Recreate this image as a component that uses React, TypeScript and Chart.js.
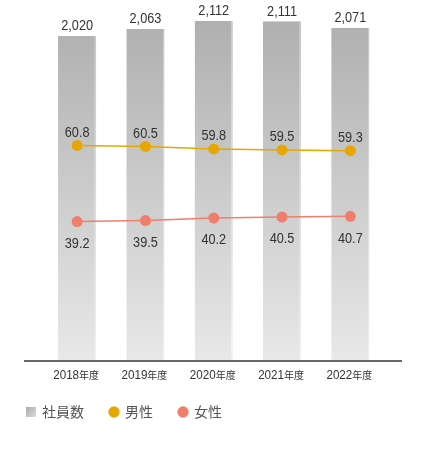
import React, { useEffect, useRef } from "react";
import { Chart, registerables } from "chart.js";

Chart.register(...registerables);

const categories = ["2018", "2019", "2020", "2021", "2022"];
const categorySuffix = "年度";
const employees = [2020, 2063, 2112, 2111, 2071];
const male = [60.8, 60.5, 59.8, 59.5, 59.3];
const female = [39.2, 39.5, 40.2, 40.5, 40.7];
const seriesNames = ["社員数", "男性", "女性"];

const NUM_FONT = "'Liberation Sans Narrow', 'Liberation Sans', Arial, sans-serif";
const CJK_FONT = "'Noto Sans CJK JP', 'Noto Sans', sans-serif";
const MALE_COLOR = "#e6a800";
const FEMALE_COLOR = "#f07e6c";
const TEXT_COLOR = "#333333";
const SQUEEZE = 0.82;

function barGradient(chart: any, top: string, bottom: string) {
  const area = chart.chartArea;
  if (!area) return bottom;
  const g = chart.ctx.createLinearGradient(0, area.top, 0, area.bottom);
  g.addColorStop(0, top);
  g.addColorStop(1, bottom);
  return g;
}

function makeSquare() {
  const c = document.createElement("canvas");
  c.width = 10;
  c.height = 10;
  const ctx = c.getContext("2d")!;
  const g = ctx.createLinearGradient(0, 0, 10, 10);
  g.addColorStop(0, "#a9a9a9");
  g.addColorStop(1, "#dcdcdc");
  ctx.fillStyle = g;
  ctx.fillRect(0, 0, 10, 10);
  return c;
}

function squeezedText(ctx: any, text: string, x: number, y: number, sx: number) {
  ctx.save();
  ctx.translate(x, y);
  ctx.scale(sx, 1);
  ctx.fillText(text, 0, 0);
  ctx.restore();
}

const valueLabels = {
  id: "valueLabels",
  afterDatasetsDraw(chart: any) {
    const ctx = chart.ctx;
    ctx.save();
    ctx.font = `15.5px ${NUM_FONT}`;
    ctx.fillStyle = TEXT_COLOR;
    ctx.textAlign = "center";
    ctx.textBaseline = "middle";
    chart.getDatasetMeta(0).data.forEach((el: any, i: number) => {
      squeezedText(ctx, employees[i].toLocaleString("en-US"), el.x, el.y - 10, SQUEEZE);
    });
    chart.getDatasetMeta(1).data.forEach((el: any, i: number) => {
      squeezedText(ctx, male[i].toFixed(1), el.x, el.y - 13, SQUEEZE);
    });
    chart.getDatasetMeta(2).data.forEach((el: any, i: number) => {
      squeezedText(ctx, female[i].toFixed(1), el.x, el.y + 22, SQUEEZE);
    });
    ctx.restore();
  },
};

const axisAndTicks = {
  id: "axisAndTicks",
  afterDatasetsDraw(chart: any) {
    const ctx = chart.ctx;
    const area = chart.chartArea;
    ctx.save();
    ctx.strokeStyle = "#3b3330";
    ctx.lineWidth = 1.6;
    ctx.beginPath();
    ctx.moveTo(area.left - 19, area.bottom + 1);
    ctx.lineTo(area.right + 17.5, area.bottom + 1);
    ctx.stroke();

    const xs = chart.scales.x;
    ctx.fillStyle = TEXT_COLOR;
    ctx.textBaseline = "alphabetic";
    ctx.textAlign = "left";
    const sx = 0.86;
    categories.forEach((c, i) => {
      const x = xs.getPixelForValue(i);
      ctx.font = `13.5px ${NUM_FONT}`;
      const w1 = ctx.measureText(c).width * sx;
      ctx.font = `10px ${CJK_FONT}`;
      const w2 = ctx.measureText(categorySuffix).width;
      const start = x - (w1 + w2) / 2 - 1;
      ctx.font = `13.5px ${NUM_FONT}`;
      squeezedText(ctx, c, start, area.bottom + 19, sx);
      ctx.font = `10px ${CJK_FONT}`;
      ctx.fillText(categorySuffix, start + w1, area.bottom + 19);
    });
    ctx.restore();
  },
};

export default function App() {
  const ref = useRef<HTMLCanvasElement>(null);
  useEffect(() => {
    if (!ref.current) return;
    const square = makeSquare();
    const chart = new Chart(ref.current, {
      type: "bar",
      data: {
        labels: categories.map((c) => c + categorySuffix),
        datasets: [
          {
            type: "bar",
            label: seriesNames[0],
            data: employees,
            yAxisID: "y",
            order: 2,
            backgroundColor: (ctx: any) => barGradient(ctx.chart, "#adadad", "#e8e8e8"),
            borderColor: (ctx: any) => barGradient(ctx.chart, "#c4c4c4", "#f0f0f0"),
            borderWidth: { top: 0, left: 0, bottom: 0, right: 1.5 },
            borderSkipped: false,
            categoryPercentage: 1,
            barPercentage: 0.56,
          } as any,
          {
            type: "line",
            label: seriesNames[1],
            data: male,
            yAxisID: "y2",
            order: 0,
            borderColor: MALE_COLOR,
            backgroundColor: MALE_COLOR,
            borderWidth: 1.5,
            pointRadius: 5.5,
            pointBorderWidth: 0,
            pointBackgroundColor: MALE_COLOR,
          } as any,
          {
            type: "line",
            label: seriesNames[2],
            data: female,
            yAxisID: "y2",
            order: 1,
            borderColor: FEMALE_COLOR,
            backgroundColor: FEMALE_COLOR,
            borderWidth: 1.5,
            pointRadius: 5.5,
            pointBorderWidth: 0,
            pointBackgroundColor: FEMALE_COLOR,
          } as any,
        ],
      },
      options: {
        responsive: false,
        animation: false,
        devicePixelRatio: 1,
        layout: { padding: { top: 7, left: 1, right: 0, bottom: 25 } },
        scales: {
          x: {
            grid: { display: false },
            border: { display: false },
            ticks: { display: false },
            afterFit: (s: any) => {
              s.height = 19;
            },
          },
          y: {
            position: "left",
            min: 0,
            max: 2200,
            grid: { display: false },
            border: { display: false },
            ticks: { display: false },
            afterFit: (s: any) => {
              s.width = 42;
            },
          },
          y2: {
            position: "right",
            min: 0,
            max: 100,
            grid: { display: false },
            border: { display: false },
            ticks: { display: false },
            afterFit: (s: any) => {
              s.width = 42.5;
            },
          },
        } as any,
        plugins: {
          tooltip: { enabled: false },
          legend: {
            position: "bottom",
            align: "start",
            labels: {
              usePointStyle: true,
              boxWidth: 8,
              boxHeight: 8,
              padding: 26,
              color: "#555555",
              font: { family: CJK_FONT, size: 14 },
              generateLabels: () => [
                {
                  text: seriesNames[0],
                  pointStyle: square as any,
                  fillStyle: "#c0c0c0",
                  strokeStyle: "rgba(0,0,0,0)",
                  lineWidth: 0,
                  hidden: false,
                  datasetIndex: 0,
                  fontColor: "#555555",
                },
                {
                  text: seriesNames[1],
                  pointStyle: "circle",
                  fillStyle: MALE_COLOR,
                  strokeStyle: MALE_COLOR,
                  lineWidth: 0,
                  hidden: false,
                  datasetIndex: 1,
                  fontColor: "#555555",
                },
                {
                  text: seriesNames[2],
                  pointStyle: "circle",
                  fillStyle: FEMALE_COLOR,
                  strokeStyle: FEMALE_COLOR,
                  lineWidth: 0,
                  hidden: false,
                  datasetIndex: 2,
                  fontColor: "#555555",
                },
              ],
            },
          },
        },
      } as any,
      plugins: [valueLabels, axisAndTicks],
    });
    return () => chart.destroy();
  }, []);

  return (
    <div style={{ position: "absolute", left: 0, top: 0, width: 427, height: 454 }}>
      <canvas ref={ref} width={427} height={454} style={{ width: 427, height: 454 }} />
    </div>
  );
}
